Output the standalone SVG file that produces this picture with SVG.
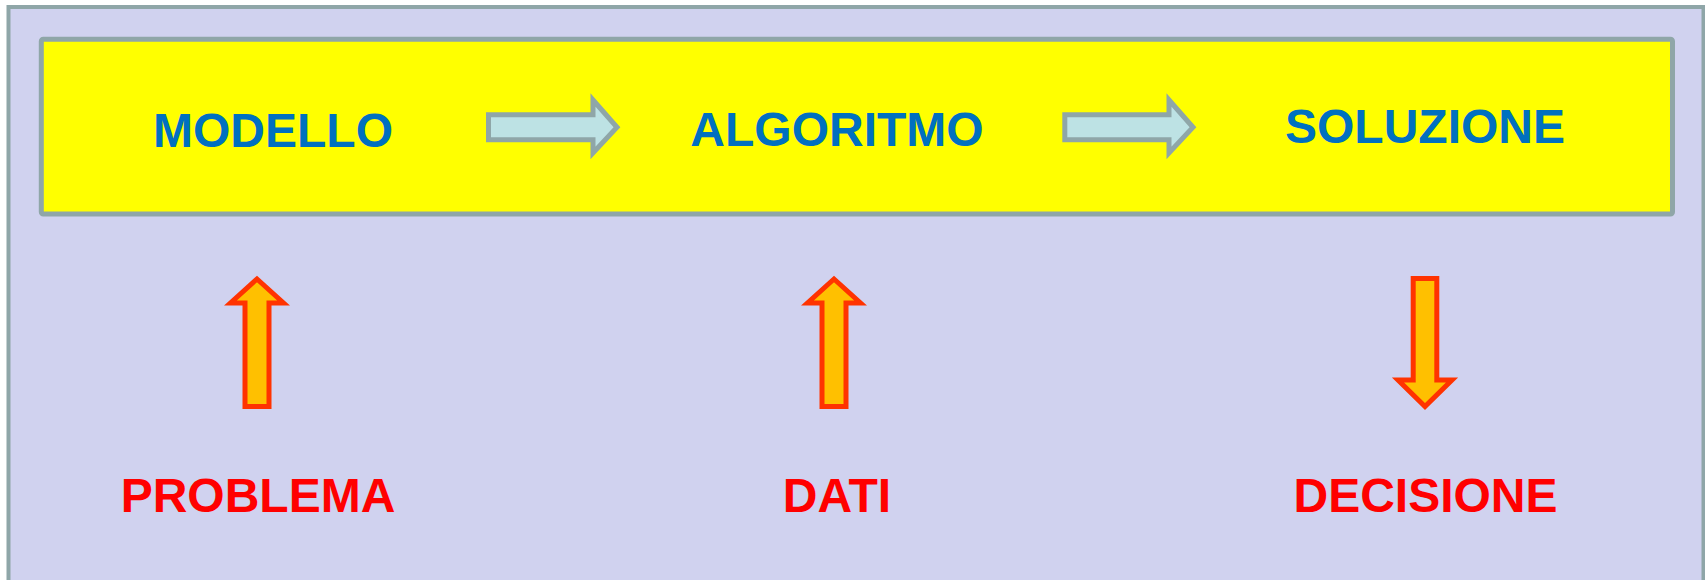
<svg xmlns="http://www.w3.org/2000/svg" width="1705" height="580" viewBox="0 0 1705 580">
  <style>
    .bg { fill: #d0d2ef; stroke: #8fa6a8; stroke-width: 4; }
    .band { fill: #ffff00; stroke: #8fa6a8; stroke-width: 5; }
    .blue { font-family: "Liberation Sans", Arial, sans-serif; font-weight: bold; font-size: 48px; fill: #0070c0; text-anchor: middle; }
    .red { font-family: "Liberation Sans", Arial, sans-serif; font-weight: bold; font-size: 48px; fill: #ff0000; text-anchor: middle; }
    .harrow { fill: #bde2e4; stroke: #8fa6a8; stroke-width: 5; stroke-linejoin: miter; }
    .varrow { fill: #ffc000; stroke: #ff3300; stroke-width: 5; stroke-linejoin: miter; }
  </style>
  <rect id="frame" class="bg" x="8.5" y="7" width="1695" height="600"/>
  <rect id="band" class="band" x="41.3" y="39.2" width="1631.2" height="174.8" rx="2"/>

  <g id="node-modello"><text class="blue" x="273" y="146.5">MODELLO</text></g>
  <g id="node-algoritmo"><text class="blue" x="837" y="145.7">ALGORITMO</text></g>
  <g id="node-soluzione"><text class="blue" x="1425" y="143.3">SOLUZIONE</text></g>
  <g id="node-problema"><text class="red" x="258" y="512.3">PROBLEMA</text></g>
  <g id="node-dati"><text class="red" x="837" y="512.3">DATI</text></g>
  <g id="node-decisione"><text class="red" x="1425.5" y="512.3">DECISIONE</text></g>

  <g id="connectors">
    <path class="harrow" d="M488.5 114.8 H593 V100 L617 127.3 L593 153 V139.8 H488.5 Z"/>
    <path class="harrow" d="M1064.8 114.8 H1169 V100 L1193 127.3 L1169 153 V139.8 H1064.8 Z"/>
    <path class="varrow" d="M245 406.5 V303 H230.5 L257 279 L283.5 303 H269 V406.5 Z"/>
    <path class="varrow" d="M822 406.5 V303 H807.5 L834 279 L860.5 303 H846 V406.5 Z"/>
    <path class="varrow" d="M1413.2 278.5 V380 H1398 L1425 406.5 L1452 380 H1436.8 V278.5 Z"/>
  </g>
</svg>
